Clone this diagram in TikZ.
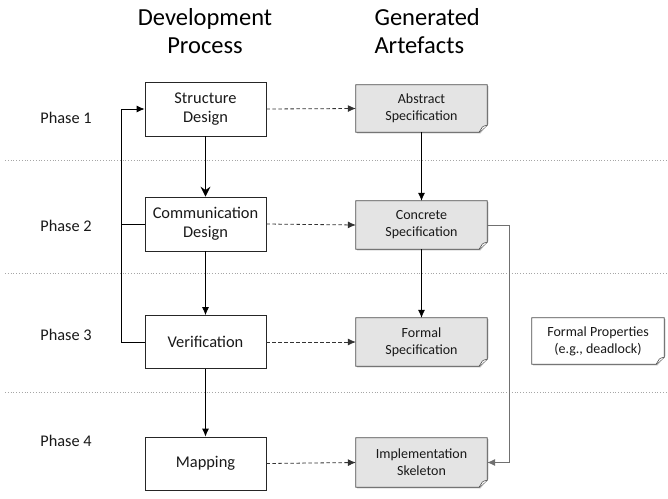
\documentclass[tikz,border=0pt]{standalone}
\usepackage{fontspec}
\setmainfont{Carlito}
\usetikzlibrary{arrows.meta,backgrounds,calc}
\definecolor{docgray}{HTML}{E4E4E4}
\definecolor{linegray}{HTML}{707070}
\tikzset{
  procbox/.style={draw=black!85, line width=0.8pt, fill=white, minimum width=121pt, minimum height=54pt, align=center, font=\fontsize{16.4}{19}\selectfont, inner sep=0pt, text=black!90},
  docnode/.style={minimum width=131pt, minimum height=48pt, align=center, font=\fontsize{14}{17}\selectfont, inner sep=0pt, text=black!90},
  title/.style={font=\fontsize{24.5}{28}\selectfont, align=center},
  phase/.style={font=\fontsize{16.3}{18}\selectfont, text=black!90},
  sep/.style={draw=black!35, line width=0.8pt, dotted},
  flow/.style={draw=black, line width=0.8pt, -{Latex[length=8pt,width=7pt]}},
  bigflow/.style={draw=black, line width=0.9pt, -{Stealth[length=10pt,width=10pt,inset=3.5pt]}},
  dashflow/.style={draw=black!80, line width=0.8pt, dash pattern=on 3.5pt off 2.5pt, -{Latex[length=8pt,width=7pt]}},
  loop/.style={draw=black, line width=0.8pt},
  side/.style={draw=linegray, line width=0.9pt},
}
\newcommand{\docshape}[2]{%
  \fill[black!25] ($(#1.north west)+(1.2pt,-1.2pt)$) -- ($(#1.north east)+(1.2pt,-1.2pt)$) -- ($(#1.south east)+(1.2pt,8.2pt)$) -- ($(#1.south east)+(-6.8pt,-1.2pt)$) -- ($(#1.south west)+(1.2pt,-1.2pt)$) -- cycle;
  \draw[fill=#2, draw=black!70, line width=0.8pt] (#1.north west) -- (#1.north east) -- ($(#1.south east)+(0,7pt)$) -- ($(#1.south east)+(-8pt,0)$) -- (#1.south west) -- cycle;
  \draw[draw=black!70, line width=0.6pt, fill=white] ($(#1.south east)+(0,7pt)$) .. controls ($(#1.south east)+(-4pt,6pt)$) .. ($(#1.south east)+(-5pt,5pt)$) -- ($(#1.south east)+(-8pt,0)$);
}
\begin{document}
\begin{tikzpicture}[x=1pt,y=-1pt]
\useasboundingbox (0,0) rectangle (668,498);

% titles
\node[title] (t1) at (205,31) {Development\\Process};
\node[title, align=left, anchor=west] (t2) at (371,31) {Generated\\Artefacts};

% phase labels
\node[phase] (p1) at (66,118) {Phase 1};
\node[phase] (p2) at (66,226) {Phase 2};
\node[phase] (p3) at (66,335) {Phase 3};
\node[phase] (p4) at (66,441) {Phase 4};

% separators
\coordinate (s1a) at (5,160); \coordinate (s1b) at (668,160);
\coordinate (s2a) at (5,273); \coordinate (s2b) at (668,273);
\coordinate (s3a) at (5,392); \coordinate (s3b) at (668,392);
\draw[sep] (s1a) -- (s1b);
\draw[sep] (s2a) -- (s2b);
\draw[sep] (s3a) -- (s3b);

% process boxes
\node[procbox] (sd) at (205.5,109) {Structure\\Design};
\node[procbox] (cd) at (205.5,224) {Communication\\Design};
\node[procbox, minimum height=53pt] (ver) at (205.5,342) {Verification};
\node[procbox, minimum height=53pt] (map) at (205.5,463.5) {Mapping};

% artefact docs
\node[docnode, minimum height=47pt] (as) at (421.5,108.5) {Abstract\\Specification};
\node[docnode] (cs) at (421.5,225) {Concrete\\Specification};
\node[docnode] (fs) at (421.5,342) {Formal\\Specification};
\node[docnode, minimum height=49pt] (is) at (421.5,462.5) {Implementation\\Skeleton};
\node[docnode, minimum width=132pt, minimum height=46pt] (fp) at (598,341) {Formal Properties\\(e.g., deadlock)};

\begin{scope}[on background layer]
  \fill[white] (0,0) rectangle (668,498);
  \docshape{as}{docgray}
  \docshape{cs}{docgray}
  \docshape{fs}{docgray}
  \docshape{is}{docgray}
  \docshape{fp}{white}
\end{scope}

% process flow
\draw[bigflow] (sd.south) -- (cd.north);
\draw[flow] (cd.south) -- (ver.north);
\draw[flow] (ver.south) -- (map.north);

% artefact flow
\draw[flow] (as.south) -- (cs.north);
\draw[flow] (cs.south) -- (fs.north);

% dashed generation arrows
\draw[dashflow] (sd.east) -- (as.west);
\draw[dashflow] (cd.east) -- (cs.west);
\draw[dashflow] (ver.east) -- (fs.west);
\draw[dashflow] (map.east) -- (is.west);

% feedback loop
\coordinate (lp) at (121,0);
\draw[loop] (cd.west) -- (lp |- cd.west);
\draw[flow] (ver.west) -- (lp |- ver.west) -- (lp |- sd.west) -- (sd.west);

% concrete to implementation
\coordinate (rp) at (509.5,0);
\draw[side, -{Latex[length=8pt,width=7pt]}] (cs.east) -- (rp |- cs.east) -- (rp |- is.east) -- (is.east);
\end{tikzpicture}
\end{document}
